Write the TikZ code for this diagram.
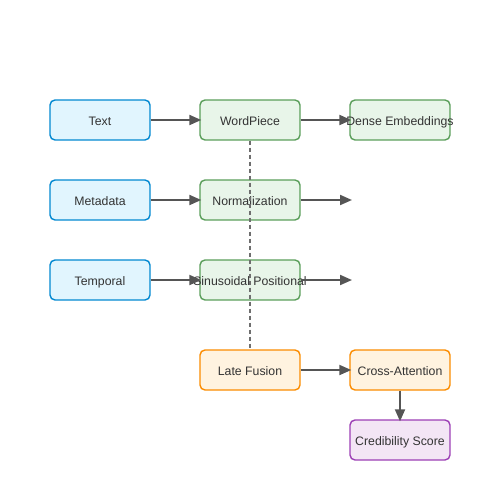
\documentclass[tikz,border=0pt]{standalone}
\usepackage{fontspec}
\setmainfont{Liberation Sans}
\usetikzlibrary{arrows.meta}

\definecolor{inblue}{HTML}{E1F5FE}
\definecolor{inbluedraw}{HTML}{0288D1}
\definecolor{procgreen}{HTML}{E8F5E9}
\definecolor{procgreendraw}{HTML}{5A9E5A}
\definecolor{fuseorange}{HTML}{FFF3E0}
\definecolor{fuseorangedraw}{HTML}{FB8C00}
\definecolor{outpurple}{HTML}{F3E5F5}
\definecolor{outpurpledraw}{HTML}{9C3FB5}
\definecolor{linegray}{HTML}{555555}
\definecolor{txtgray}{HTML}{333333}

% keep the box width fixed, long labels run over the border
\newcommand{\boxtext}[1]{\makebox[2cm][c]{#1}}

\begin{document}
\begin{tikzpicture}[x=0.02cm, y=-0.02cm,
    box/.style={draw, rectangle, rounded corners=0.1cm, line width=0.8pt, minimum width=2cm, minimum height=0.8cm, inner sep=0pt, text height=6.6pt, text depth=0pt, text=txtgray, font=\fontsize{7}{8}\selectfont},
    inbox/.style={box, fill=inblue, draw=inbluedraw},
    procbox/.style={box, fill=procgreen, draw=procgreendraw},
    fusebox/.style={box, fill=fuseorange, draw=fuseorangedraw},
    outbox/.style={box, fill=outpurple, draw=outpurpledraw},
    flow/.style={-{Triangle[length=0.24cm, width=0.2cm]}, line width=1.1pt, draw=linegray, shorten >=-0.04cm}]
      \useasboundingbox (0,0) rectangle (500,500);
      % inputs
      \node[inbox] (text) at (100,120) {\boxtext{Text}};
      \node[inbox] (meta) at (100,200) {\boxtext{Metadata}};
      \node[inbox] (temp) at (100,280) {\boxtext{Temporal}};
      % encoders
      \node[procbox] (wp) at (250,120) {\boxtext{WordPiece}};
      \node[procbox] (norm) at (250,200) {\boxtext{Normalization}};
      \node[procbox] (sin) at (250,280) {\boxtext{Sinusoidal Positional}};
      \node[procbox] (dense) at (400,120) {\boxtext{Dense Embeddings}};
      % fusion and output
      \node[fusebox] (late) at (250,370) {\boxtext{Late Fusion}};
      \node[fusebox] (cross) at (400,370) {\boxtext{Cross-Attention}};
      \node[outbox] (score) at (400,440) {\boxtext{Credibility Score}};
      \coordinate (normout) at (350,200);
      \coordinate (sinout) at (350,280);
      \draw[flow] (text) -- (wp);
      \draw[flow] (meta) -- (norm);
      \draw[flow] (temp) -- (sin);
      \draw[flow] (wp) -- (dense);
      \draw[flow] (norm) -- (normout);
      \draw[flow] (sin) -- (sinout);
      \draw[flow] (late) -- (cross);
      \draw[flow] (cross) -- (score);
      \draw[dash pattern=on 0.08cm off 0.06cm, line width=0.9pt, draw=linegray!85] (wp) -- (late);
    \end{tikzpicture}
\end{document}
